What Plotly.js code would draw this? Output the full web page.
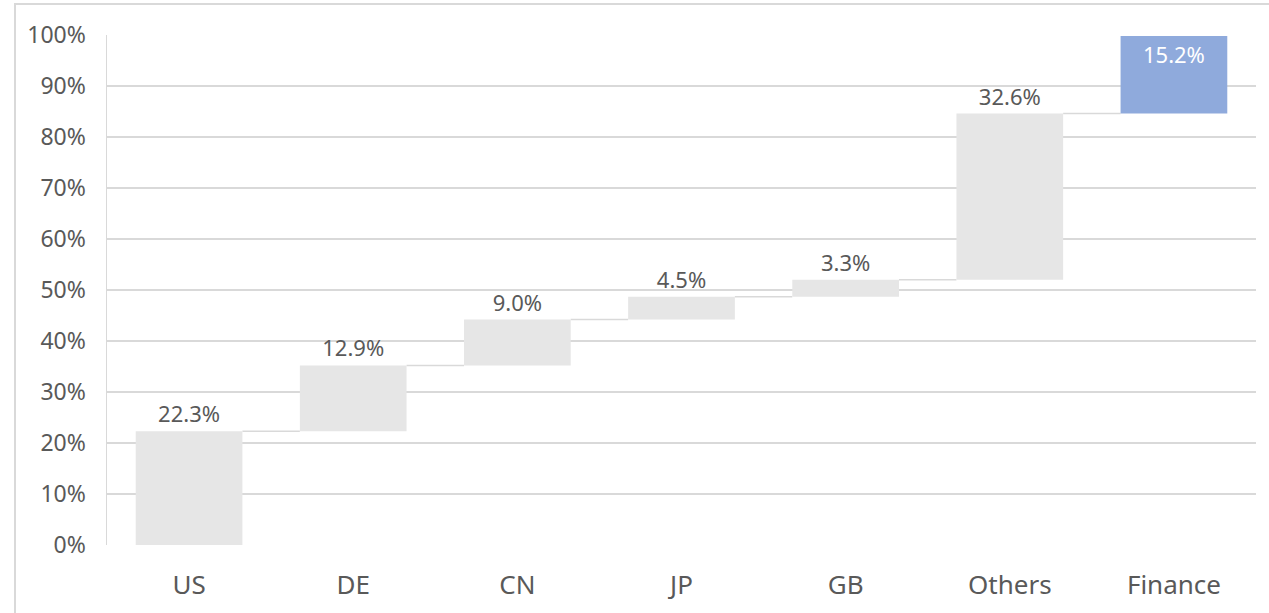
<!DOCTYPE html>
<html>
<head>
<meta charset="utf-8">
<script src="https://cdn.plot.ly/plotly-3.0.1.min.js"></script>
<style>
  html, body { margin: 0; padding: 0; background: #ffffff; overflow: hidden; }
  #frame { position: absolute; left: 14px; top: 3px; width: 1300px; height: 700px;
           border: 2px solid #d9d9d9; box-sizing: border-box; pointer-events: none; }
  #chart { position: absolute; left: 0; top: 0; width: 1269px; height: 613px; }
</style>
</head>
<body>
<div id="chart"></div>
<div id="frame"></div>
<script>
// Share of revenue by region, built up step by step (percent)
const categories = ["US", "DE", "CN", "JP", "GB", "Others", "Finance"];
const shares = [22.3, 12.9, 9.0, 4.5, 3.3, 32.6, 15.2];
const highlight = [false, false, false, false, false, false, true];
const yTicks = [0, 10, 20, 30, 40, 50, 60, 70, 80, 90, 100];

const GREY = "#e6e6e6";
const BLUE = "#8faadc";
const TEXT = "#595959";
const GRID = "#d9d9d9";
const BAR_WIDTH = 0.65;
const FONT = "Noto Sans, Open Sans, sans-serif";

// running start of each step
const bases = [];
let run = 0;
shares.forEach(v => { bases.push(run); run += v; });

const labels = shares.map(v => v.toFixed(1) + "%");

const trace = {
  type: "bar",
  x: categories,
  y: shares,
  base: bases,
  width: BAR_WIDTH,
  marker: { color: highlight.map(h => h ? BLUE : GREY), line: { width: 0 } },
  text: labels,
  textposition: highlight.map(h => h ? "inside" : "outside"),
  insidetextanchor: "end",
  textfont: { family: FONT, size: 22,
              color: highlight.map(h => h ? "#ffffff" : TEXT) },
  constraintext: "none",
  cliponaxis: false,
  hoverinfo: "skip"
};

// connector lines between the end of one step and the start of the next
const shapes = [];
for (let i = 0; i < categories.length - 1; i++) {
  const level = bases[i] + shares[i];
  shapes.push({
    type: "line", xref: "x", yref: "y", layer: "below",
    x0: i + BAR_WIDTH / 2, x1: i + 1 - BAR_WIDTH / 2,
    y0: level, y1: level,
    line: { color: GRID, width: 1.5 }
  });
}

const layout = {
  width: 1269, height: 613,
  margin: { l: 107, r: 13, t: 35, b: 68 },
  paper_bgcolor: "#ffffff", plot_bgcolor: "#ffffff",
  showlegend: false,
  bargap: 1 - BAR_WIDTH,
  font: { family: FONT, color: TEXT },
  xaxis: {
    type: "category",
    tickfont: { size: 26, color: TEXT },
    showgrid: false, zeroline: false, showline: false,
    ticks: "outside", ticklen: 17, tickcolor: "rgba(0,0,0,0)"
  },
  yaxis: {
    range: [0, 100],
    tickvals: yTicks,
    ticktext: yTicks.map(t => t + "%"),
    tickfont: { size: 23, color: TEXT },
    showgrid: true, gridcolor: GRID, gridwidth: 1.5,
    zeroline: false,
    showline: true, linecolor: GRID, linewidth: 1.5,
    ticks: "outside", ticklen: 15, tickcolor: "rgba(0,0,0,0)"
  },
  shapes: shapes
};

Plotly.newPlot("chart", [trace], layout, { displayModeBar: false, staticPlot: true });
</script>
</body>
</html>
